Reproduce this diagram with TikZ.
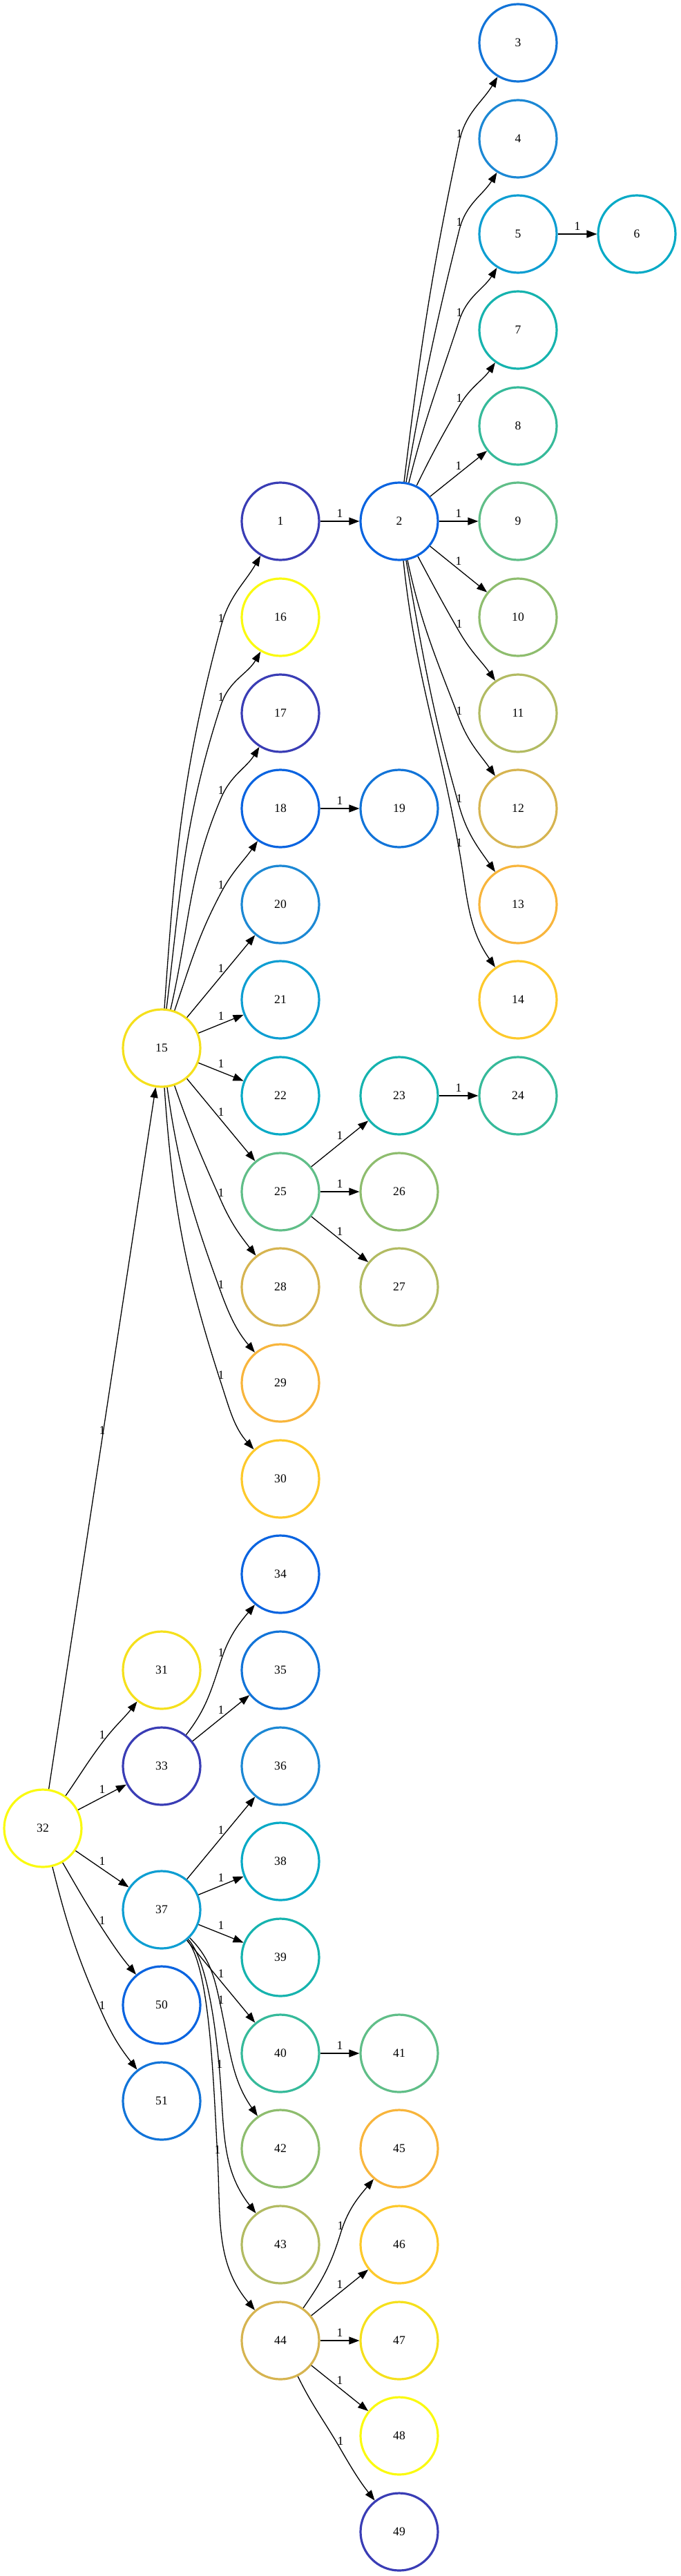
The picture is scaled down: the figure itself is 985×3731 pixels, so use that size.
\documentclass[tikz,border=0pt]{standalone}
\usepackage{fontspec}
\setmainfont{Liberation Serif}
\usetikzlibrary{arrows.meta}

\definecolor{c1}{RGB}{58,61,181}
\definecolor{c2}{RGB}{10,100,224}
\definecolor{c3}{RGB}{18,116,216}
\definecolor{c4}{RGB}{28,136,212}
\definecolor{c5}{RGB}{14,158,210}
\definecolor{c6}{RGB}{8,170,198}
\definecolor{c7}{RGB}{22,179,174}
\definecolor{c8}{RGB}{54,186,154}
\definecolor{c9}{RGB}{96,190,136}
\definecolor{c10}{RGB}{142,189,110}
\definecolor{c11}{RGB}{178,187,98}
\definecolor{c12}{RGB}{214,180,80}
\definecolor{c13}{RGB}{248,181,60}
\definecolor{c14}{RGB}{253,201,43}
\definecolor{c15}{RGB}{245,224,28}
\definecolor{c16}{RGB}{250,250,16}

\begin{document}
\begin{tikzpicture}[
        x=0.5pt, y=0.5pt,
        vert/.style={circle,draw,line width=1.6pt,minimum size=56pt,inner sep=0pt,
            font=\fontsize{8.8}{10}\selectfont},
        arc/.style={line width=0.65pt,-{Triangle[length=7.5pt,width=5.5pt]}},
        wlabel/.style={above,inner sep=2.6pt,font=\fontsize{8.8}{10}\selectfont},
        ]
    \useasboundingbox (0,0) rectangle (985,-3731);

    % first column of the tree
    \node [vert,draw=c16] (n32) at (62,-2648) {32};
    % second column
    \node [vert,draw=c15] (n15) at (234,-1518) {15};
    \node [vert,draw=c15] (n31) at (234,-2419) {31};
    \node [vert,draw=c1]  (n33) at (234,-2558) {33};
    \node [vert,draw=c5]  (n37) at (234,-2766) {37};
    \node [vert,draw=c2]  (n50) at (234,-2904) {50};
    \node [vert,draw=c3]  (n51) at (234,-3043) {51};
    % third column
    \node [vert,draw=c1]  (n1)  at (406,-755) {1};
    \node [vert,draw=c16] (n16) at (406,-894) {16};
    \node [vert,draw=c1]  (n17) at (406,-1033) {17};
    \node [vert,draw=c2]  (n18) at (406,-1171) {18};
    \node [vert,draw=c4]  (n20) at (406,-1310) {20};
    \node [vert,draw=c5]  (n21) at (406,-1448) {21};
    \node [vert,draw=c6]  (n22) at (406,-1587) {22};
    \node [vert,draw=c9]  (n25) at (406,-1726) {25};
    \node [vert,draw=c12] (n28) at (406,-1864) {28};
    \node [vert,draw=c13] (n29) at (406,-2003) {29};
    \node [vert,draw=c14] (n30) at (406,-2142) {30};
    \node [vert,draw=c2]  (n34) at (406,-2280) {34};
    \node [vert,draw=c3]  (n35) at (406,-2419) {35};
    \node [vert,draw=c4]  (n36) at (406,-2558) {36};
    \node [vert,draw=c6]  (n38) at (406,-2696) {38};
    \node [vert,draw=c7]  (n39) at (406,-2835) {39};
    \node [vert,draw=c8]  (n40) at (406,-2974) {40};
    \node [vert,draw=c10] (n42) at (406,-3112) {42};
    \node [vert,draw=c11] (n43) at (406,-3251) {43};
    \node [vert,draw=c12] (n44) at (406,-3390) {44};
    % fourth column
    \node [vert,draw=c2]  (n2)  at (578,-755) {2};
    \node [vert,draw=c3]  (n19) at (578,-1171) {19};
    \node [vert,draw=c7]  (n23) at (578,-1587) {23};
    \node [vert,draw=c10] (n26) at (578,-1726) {26};
    \node [vert,draw=c11] (n27) at (578,-1864) {27};
    \node [vert,draw=c9]  (n41) at (578,-2974) {41};
    \node [vert,draw=c13] (n45) at (578,-3112) {45};
    \node [vert,draw=c14] (n46) at (578,-3251) {46};
    \node [vert,draw=c15] (n47) at (578,-3390) {47};
    \node [vert,draw=c16] (n48) at (578,-3528) {48};
    \node [vert,draw=c1]  (n49) at (578,-3667) {49};
    % fifth column
    \node [vert,draw=c3]  (n3)  at (750,-62) {3};
    \node [vert,draw=c4]  (n4)  at (750,-201) {4};
    \node [vert,draw=c5]  (n5)  at (750,-339) {5};
    \node [vert,draw=c7]  (n7)  at (750,-478) {7};
    \node [vert,draw=c8]  (n8)  at (750,-617) {8};
    \node [vert,draw=c9]  (n9)  at (750,-755) {9};
    \node [vert,draw=c10] (n10) at (750,-894) {10};
    \node [vert,draw=c11] (n11) at (750,-1033) {11};
    \node [vert,draw=c12] (n12) at (750,-1171) {12};
    \node [vert,draw=c13] (n13) at (750,-1310) {13};
    \node [vert,draw=c14] (n14) at (750,-1448) {14};
    \node [vert,draw=c8]  (n24) at (750,-1587) {24};
    % last column
    \node [vert,draw=c6]  (n6)  at (922,-339) {6};

    % edges from 32
    \draw [arc] (n32) -- node[wlabel] {1} (n15);
    \draw [arc] (n32) to[out=55,in=-127] (148,-2524) node[wlabel] {1} to[out=53,in=-128] (n31);
    \draw [arc] (n32) -- node[wlabel] {1} (n33);
    \draw [arc] (n32) -- node[wlabel] {1} (n37);
    \draw [arc] (n32) to[out=-60,in=123] (148,-2793) node[wlabel] {1} to[out=-57,in=130] (n50);
    \draw [arc] (n32) to[out=-76,in=114] (148,-2916) node[wlabel] {1} to[out=-66,in=128] (n51);

    % edges from 15
    \draw [arc] (n15) to[out=86,in=-105] (320,-907) node[wlabel] {1} to[out=75,in=-120] (n1);
    \draw [arc] (n15) to[out=83,in=-108] (320,-1021) node[wlabel] {1} to[out=72,in=-120] (n16);
    \draw [arc] (n15) to[out=77,in=-113] (320,-1156) node[wlabel] {1} to[out=67,in=-122] (n17);
    \draw [arc] (n15) to[out=71,in=-118] (320,-1293) node[wlabel] {1} to[out=62,in=-125] (n18);
    \draw [arc] (n15) -- node[wlabel] {1} (n20);
    \draw [arc] (n15) -- node[wlabel] {1} (n21);
    \draw [arc] (n15) -- node[wlabel] {1} (n22);
    \draw [arc] (n15) -- node[wlabel] {1} (n25);
    \draw [arc] (n15) to[out=-71,in=114] (320,-1739) node[wlabel] {1} to[out=-66,in=128] (n28);
    \draw [arc] (n15) to[out=-82,in=110] (320,-1872) node[wlabel] {1} to[out=-70,in=130] (n29);
    \draw [arc] (n15) to[out=-86,in=108] (320,-2003) node[wlabel] {1} to[out=-72,in=132] (n30);

    % edges from 2
    \draw [arc] (n1) -- node[wlabel] {1} (n2);
    \draw [arc] (n2) to[out=83,in=-102] (665,-205) node[wlabel] {1} to[out=78,in=-121] (n3);
    \draw [arc] (n2) to[out=80,in=-104] (665,-333) node[wlabel] {1} to[out=76,in=-122] (n4);
    \draw [arc] (n2) to[out=76,in=-108] (665,-464) node[wlabel] {1} to[out=72,in=-122] (n5);
    \draw [arc] (n2) to[out=64,in=-120] (665,-588) node[wlabel] {1} to[out=60,in=-125] (n7);
    \draw [arc] (n2) -- node[wlabel] {1} (n8);
    \draw [arc] (n2) -- node[wlabel] {1} (n9);
    \draw [arc] (n2) -- node[wlabel] {1} (n10);
    \draw [arc] (n2) to[out=-62,in=120] (665,-915) node[wlabel] {1} to[out=-60,in=125] (n11);
    \draw [arc] (n2) to[out=-78,in=111] (665,-1041) node[wlabel] {1} to[out=-69,in=125] (n12);
    \draw [arc] (n2) to[out=-80,in=106] (665,-1168) node[wlabel] {1} to[out=-74,in=125] (n13);
    \draw [arc] (n2) to[out=-84,in=100] (665,-1232) node[wlabel] {1} to[out=-80,in=125] (n14);
    \draw [arc] (n5) -- node[wlabel] {1} (n6);
    \draw [arc] (n18) -- node[wlabel] {1} (n19);

    % edges from 25
    \draw [arc] (n25) -- node[wlabel] {1} (n23);
    \draw [arc] (n25) -- node[wlabel] {1} (n26);
    \draw [arc] (n25) -- node[wlabel] {1} (n27);
    \draw [arc] (n23) -- node[wlabel] {1} (n24);

    % edges from 33 and 37
    \draw [arc] (n33) to[out=52,in=-108] (320,-2405) node[wlabel] {1} to[out=72,in=-130] (n34);
    \draw [arc] (n33) -- node[wlabel] {1} (n35);
    \draw [arc] (n37) -- node[wlabel] {1} (n36);
    \draw [arc] (n37) -- node[wlabel] {1} (n38);
    \draw [arc] (n37) -- node[wlabel] {1} (n39);
    \draw [arc] (n37) -- node[wlabel] {1} (n40);
    \draw [arc] (n37) to[out=-45,in=102] (320,-2908) node[wlabel] {1} to[out=-78,in=125] (n42);
    \draw [arc] (n37) to[out=-48,in=95,out looseness=0.5] (318,-3001) node[wlabel] {1} to[out=-85,in=128] (n43);
    \draw [arc] (n37) to[out=-50,in=93,out looseness=0.4] (315,-3125) node[wlabel] {1} to[out=-87,in=130] (n44);
    \draw [arc] (n40) -- node[wlabel] {1} (n41);

    % edges from 44
    \draw [arc] (n44) to[out=55,in=-107] (493,-3235) node[wlabel] {1} to[out=73,in=-130] (n45);
    \draw [arc] (n44) -- node[wlabel] {1} (n46);
    \draw [arc] (n44) -- node[wlabel] {1} (n47);
    \draw [arc] (n44) -- node[wlabel] {1} (n48);
    \draw [arc] (n44) to[out=-64,in=120] (493,-3547) node[wlabel] {1} to[out=-60,in=128] (n49);
\end{tikzpicture}
\end{document}
